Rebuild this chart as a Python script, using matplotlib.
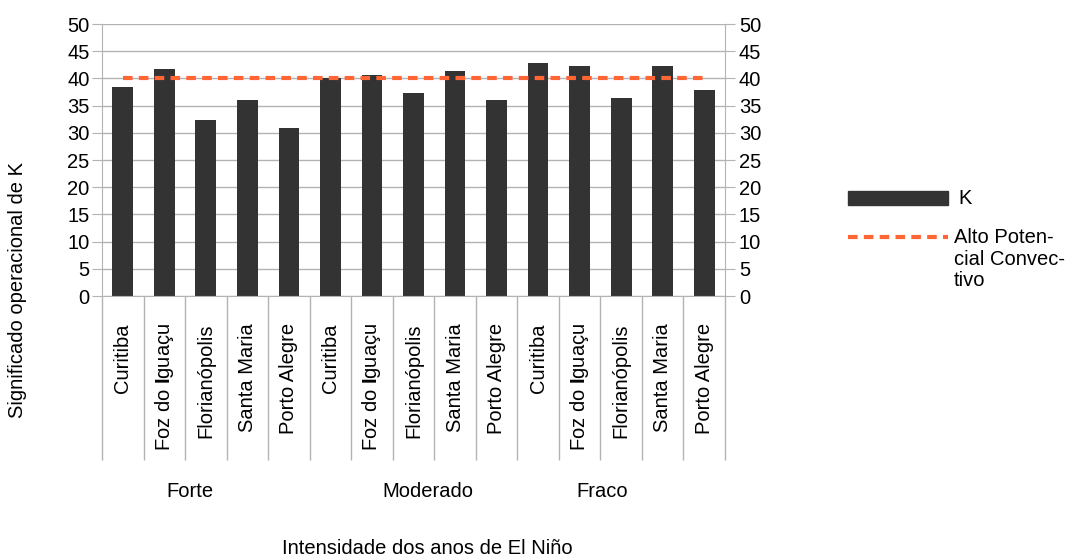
import matplotlib.pyplot as plt
import matplotlib.transforms as mtransforms
from matplotlib.patches import Rectangle
from matplotlib.lines import Line2D
import numpy as np

plt.rcParams["font.family"] = ["Liberation Sans", "DejaVu Sans"]
plt.rcParams["mathtext.fontset"] = "custom"
plt.rcParams["mathtext.bf"] = "Liberation Sans:bold"
plt.rcParams["mathtext.rm"] = "Liberation Sans"

cidades = ["Curitiba", r"Foz do $\mathbf{I}$guaçu", "Florianópolis", "Santa Maria", "Porto Alegre"]
grupos = ["Forte", "Moderado", "Fraco"]
k_valores = [38.4, 41.8, 32.4, 36.1, 30.9,
             40.1, 40.6, 37.3, 41.4, 36.1,
             42.9, 42.2, 36.4, 42.2, 37.9]
alto_potencial = [40] * 15

rotulos = cidades * len(grupos)
x = np.arange(len(k_valores))
fs = 14.5
cinza = "#b3b3b3"
cor_barra = "#333333"
cor_linha = "#ff6633"
estilo_linha = (0, (2.3, 1.5))

W, H = 1073, 557
fig = plt.figure(figsize=(W / 100, H / 100), dpi=100)
ax = fig.add_axes([102 / W, 1 - 296 / H, 623 / W, 272 / H])

ax.bar(x, k_valores, 0.5, color=cor_barra, zorder=2)
ax.plot(x, alto_potencial, color=cor_linha, lw=3, linestyle=estilo_linha, zorder=3)

ax.set_xlim(-0.5, len(x) - 0.5)
ax.set_ylim(0, 50)
ax.set_yticks(range(0, 51, 5))
ax.yaxis.grid(True, color=cinza, lw=1)
ax.set_axisbelow(True)
for s in ["left", "right", "bottom"]:
    ax.spines[s].set_color(cinza)
ax.spines["top"].set_visible(False)
ax.tick_params(axis="y", length=7, color=cinza, labelsize=fs, pad=2)

# city names under each bar, category boundaries as long minor ticks
ax.set_xticks(x)
ax.set_xticklabels(rotulos, rotation=90, fontsize=fs)
ax.tick_params(axis="x", which="major", length=0, pad=19.5)
ax.set_xticks(np.arange(-0.5, len(x)), minor=True)
ax.tick_params(axis="x", which="minor", length=118, color=cinza, width=1)

ax2 = ax.twinx()
ax2.set_ylim(0, 50)
ax2.set_yticks(range(0, 51, 5))
for s in ["left", "right", "bottom", "top"]:
    ax2.spines[s].set_visible(False)
ax2.tick_params(axis="y", length=7, color=cinza, labelsize=fs, pad=3)

trans = mtransforms.blended_transform_factory(ax.transData, ax.transAxes)
for nome, pos in zip(grupos, [1.62, 7.35, 11.55]):
    ax.text(pos, -0.72, nome, transform=trans, ha="center", va="center", fontsize=fs)

fig.text(18 / W, 1 - 290 / H, "Significado operacional de K", rotation=90,
         ha="center", va="center", fontsize=fs)
fig.text(427 / W, 1 - 548 / H, "Intensidade dos anos de El Niño",
         ha="center", va="center", fontsize=fs)

# legend
fig.patches.append(Rectangle((848 / W, 1 - 205 / H), 100 / W, 14 / H,
                             transform=fig.transFigure, color=cor_barra))
fig.text(958 / W, 1 - 198 / H, "K", ha="left", va="center", fontsize=fs)
fig.lines.append(Line2D([848 / W, 948 / W], [1 - 237 / H, 1 - 237 / H],
                        transform=fig.transFigure, color=cor_linha, lw=3,
                        linestyle=estilo_linha))
fig.text(954 / W, 1 - 228 / H, "Alto Poten-\ncial Convec-\ntivo", ha="left", va="top",
         fontsize=fs, linespacing=1.17)

fig.savefig("out.png", dpi=100)
